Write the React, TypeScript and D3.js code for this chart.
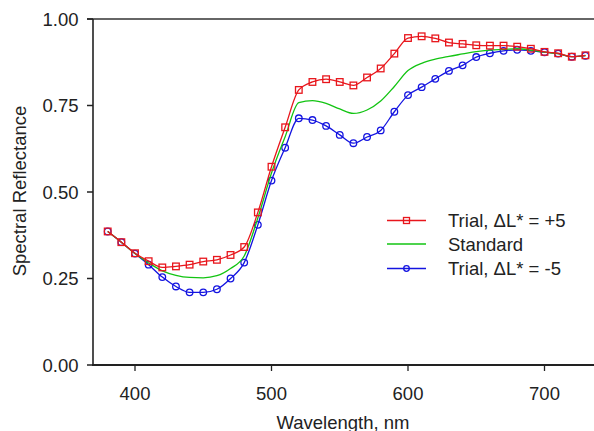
import React from "react";
import * as d3 from "d3";

const wavelengths = [380, 390, 400, 410, 420, 430, 440, 450, 460, 470, 480, 490, 500, 510, 520, 530, 540, 550, 560, 570, 580, 590, 600, 610, 620, 630, 640, 650, 660, 670, 680, 690, 700, 710, 720, 730];

const trialPlus = [0.386, 0.355, 0.323, 0.300, 0.282, 0.285, 0.290, 0.299, 0.304, 0.318, 0.341, 0.441, 0.573, 0.687, 0.795, 0.818, 0.826, 0.818, 0.808, 0.831, 0.857, 0.900, 0.945, 0.950, 0.944, 0.932, 0.928, 0.924, 0.923, 0.923, 0.920, 0.914, 0.905, 0.901, 0.891, 0.895];

const standard = [0.386, 0.355, 0.322, 0.295, 0.272, 0.259, 0.253, 0.252, 0.258, 0.279, 0.315, 0.425, 0.555, 0.660, 0.758, 0.764, 0.756, 0.740, 0.727, 0.737, 0.763, 0.805, 0.851, 0.872, 0.884, 0.892, 0.899, 0.906, 0.910, 0.912, 0.914, 0.910, 0.904, 0.900, 0.891, 0.894];

const trialMinus = [0.386, 0.355, 0.322, 0.290, 0.254, 0.227, 0.210, 0.210, 0.219, 0.250, 0.296, 0.405, 0.533, 0.628, 0.713, 0.708, 0.691, 0.665, 0.641, 0.659, 0.678, 0.732, 0.780, 0.803, 0.827, 0.850, 0.866, 0.890, 0.901, 0.908, 0.911, 0.908, 0.904, 0.900, 0.891, 0.894];

const xTicks = [400, 500, 600, 700];
const yTicks = [0, 0.25, 0.5, 0.75, 1.0];
const legendLabels = ["Trial, \u0394L* = +5", "Standard", "Trial, \u0394L* = -5"];

const RED = "#e8161c";
const GREEN = "#12c412";
const BLUE = "#1414e0";
const AXIS = "#222";
const FONT = "'Liberation Sans', Arial, Helvetica, sans-serif";

export default function App() {
  const W = 594;
  const H = 431;
  const x = d3.scaleLinear().domain([400, 700]).range([135, 544.5]);
  const y = d3.scaleLinear().domain([0, 1]).range([365, 19]);
  const left = 93;

  const line = (vals: number[]) =>
    d3
      .line<number>()
      .x((_, i) => x(wavelengths[i]))
      .y((v) => y(v))
      .curve(d3.curveMonotoneX)(vals) as string;

  const sq = 6.6;
  const legendY = [220.5, 244, 268.5];

  return (
    <svg width={W} height={H} style={{ position: "absolute", left: 0, top: 0 }}>
      <rect x={0} y={0} width={W} height={H} fill="#fff" />
      {/* frame */}
      <line x1={87} x2={W} y1={y(1)} y2={y(1)} stroke="#333" strokeWidth={1.5} />
      <line x1={left} x2={left} y1={y(1)} y2={y(0) + 1} stroke={AXIS} strokeWidth={1.6} />
      <line x1={left - 1} x2={W} y1={y(0)} y2={y(0)} stroke={AXIS} strokeWidth={2} />
      {/* y ticks */}
      {yTicks.map((t) => (
        <g key={"y" + t}>
          <line x1={87} x2={left} y1={y(t)} y2={y(t)} stroke={AXIS} strokeWidth={1.5} />
          <text x={78.5} y={y(t)} dy="0.36em" textAnchor="end" fontFamily={FONT} fontSize={18.5} fill={AXIS}>
            {t.toFixed(2)}
          </text>
        </g>
      ))}
      {/* x ticks */}
      {xTicks.map((t) => (
        <g key={"x" + t}>
          <line x1={x(t)} x2={x(t)} y1={y(0)} y2={y(0) + 6} stroke={AXIS} strokeWidth={1.3} />
          <text x={x(t)} y={399.5} textAnchor="middle" fontFamily={FONT} fontSize={18.5} fill={AXIS}>
            {t}
          </text>
        </g>
      ))}
      <text
        transform={`translate(25.5,191) rotate(-90)`}
        textAnchor="middle"
        fontFamily={FONT}
        fontSize={18.5}
        fill={AXIS}
      >
        Spectral Reflectance
      </text>
      <text x={343} y={429} textAnchor="middle" fontFamily={FONT} fontSize={18.5} fill={AXIS}>
        Wavelength, nm
      </text>

      {/* series */}
      <path d={line(trialMinus)} fill="none" stroke={BLUE} strokeWidth={1.3} />
      {trialMinus.map((v, i) => (
        <circle key={"b" + i} cx={x(wavelengths[i])} cy={y(v)} r={3.3} fill="none" stroke={BLUE} strokeWidth={1.3} />
      ))}
      <path d={line(standard)} fill="none" stroke={GREEN} strokeWidth={1.3} />
      <path d={line(trialPlus)} fill="none" stroke={RED} strokeWidth={1.3} />
      {trialPlus.map((v, i) => (
        <rect
          key={"r" + i}
          x={x(wavelengths[i]) - sq / 2}
          y={y(v) - sq / 2}
          width={sq}
          height={sq}
          fill="none"
          stroke={RED}
          strokeWidth={1.3}
        />
      ))}

      {/* legend */}
      <g>
        <line x1={387} x2={426} y1={legendY[0]} y2={legendY[0]} stroke={RED} strokeWidth={1.3} />
        <rect x={406.5 - 3} y={legendY[0] - 3} width={6} height={6} fill="none" stroke={RED} strokeWidth={1.3} />
        <line x1={387} x2={426} y1={legendY[1]} y2={legendY[1]} stroke={GREEN} strokeWidth={1.3} />
        <line x1={387} x2={426} y1={legendY[2]} y2={legendY[2]} stroke={BLUE} strokeWidth={1.3} />
        <circle cx={406.5} cy={legendY[2]} r={2.8} fill="none" stroke={BLUE} strokeWidth={1.3} />
        {legendLabels.map((l, i) => (
          <text key={l} x={448} y={legendY[i]} dy="0.36em" fontFamily={FONT} fontSize={18.5} fill={AXIS}>
            {l}
          </text>
        ))}
      </g>
    </svg>
  );
}
